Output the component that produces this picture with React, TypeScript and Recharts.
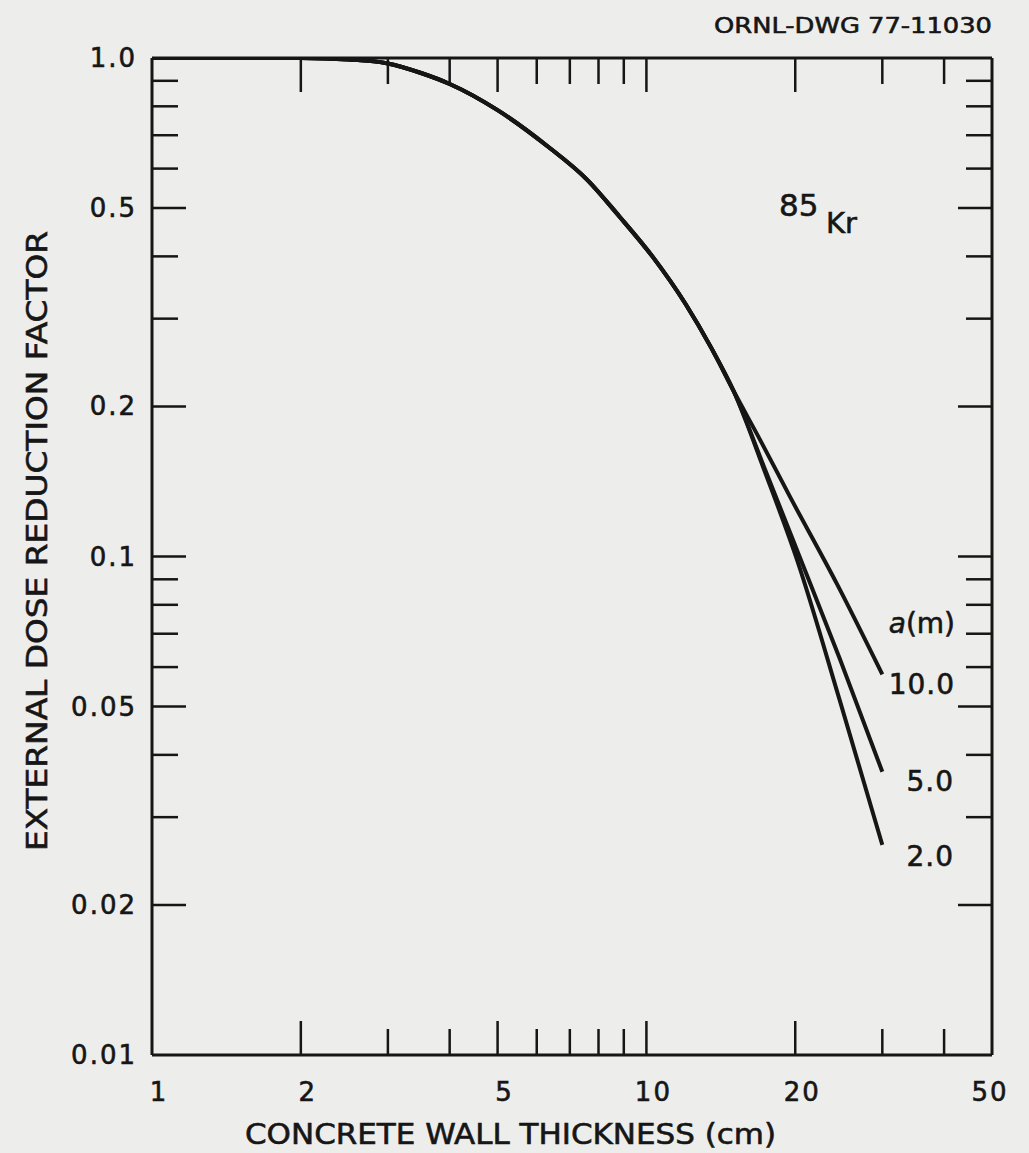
import React from "react";
import { LineChart, Line, XAxis, YAxis, Customized } from "recharts";

const W = 1029;
const H = 1153;
const INK = "#161616";
const FONT = "'DejaVu Sans', Verdana, sans-serif";

// shared part of the three curves (x in cm, y = reduction factor)
const commonX = [1, 2, 2.5, 3, 3.5, 4, 5, 6.3, 7.6, 8.8, 10.3, 12, 13.5, 15];
const commonY = [1.0, 1.0, 0.993, 0.975, 0.933, 0.887, 0.786, 0.666, 0.569, 0.482, 0.399, 0.321, 0.263, 0.215];

// branches for a = 10.0, 5.0, 2.0 m
const tail10X = [17, 19.5, 24.3, 30];
const tail10Y = [0.171, 0.132, 0.088, 0.058];
const tail5X = [17.4, 20.4, 24.6, 30];
const tail5Y = [0.149, 0.1, 0.0624, 0.037];
const tail2X = [17.4, 20.2, 24.6, 30];
const tail2Y = [0.147, 0.098, 0.0515, 0.0264];

const xTicks = [1, 2, 3, 4, 5, 6, 7, 8, 9, 10, 20, 30, 40, 50];
const xLabels = [1, 2, 5, 10, 20, 50];
const yTicks = [0.01, 0.02, 0.03, 0.04, 0.05, 0.06, 0.07, 0.08, 0.09, 0.1, 0.2, 0.3, 0.4, 0.5, 0.6, 0.7, 0.8, 0.9, 1.0];
const yLabels = [0.01, 0.02, 0.05, 0.1, 0.2, 0.5, 1.0];

const build = (xs: number[], ys: number[]) => xs.map((x, i) => ({ x, y: ys[i] }));
const s10 = build([...commonX, ...tail10X], [...commonY, ...tail10Y]);
const s5 = build([...commonX, ...tail5X], [...commonY, ...tail5Y]);
const s2 = build([...commonX, ...tail2X], [...commonY, ...tail2Y]);

const isMajor = (v: number) => {
  const m = v / Math.pow(10, Math.floor(Math.log10(v) + 1e-9));
  const r = Math.round(m);
  return r === 1 || r === 2 || r === 5;
};
const isEnd = (v: number, lo: number, hi: number) => Math.abs(v - lo) < 1e-9 || Math.abs(v - hi) < 1e-9;
const LONG = 34;
const SHORT = 26;

const labelStyle = { fontFamily: FONT, fontSize: 26, fill: INK, stroke: INK, strokeWidth: 0.6, letterSpacing: 2 } as any;

const BottomTick = (props: any) => {
  const { x, y, payload } = props;
  const v = payload.value;
  const len = isMajor(v) ? LONG : SHORT;
  return (
    <g>
      {!isEnd(v, 1, 50) && <line x1={x} y1={y} x2={x} y2={y - len} stroke={INK} strokeWidth={2.5} />}
      {xLabels.includes(v) && (
        <text x={x + (v === 50 ? -2 : 7)} y={y + 46} textAnchor="middle" style={labelStyle}>
          {String(v)}
        </text>
      )}
    </g>
  );
};

const TopTick = (props: any) => {
  const { x, y, payload } = props;
  const v = payload.value;
  const len = isMajor(v) ? LONG : SHORT;
  if (isEnd(v, 1, 50)) return <g />;
  return <line x1={x} y1={y} x2={x} y2={y + len} stroke={INK} strokeWidth={2.5} />;
};

const LeftTick = (props: any) => {
  const { x, y, payload } = props;
  const v = payload.value;
  const len = isMajor(v) ? LONG : SHORT;
  return (
    <g>
      {!isEnd(v, 0.01, 1) && <line x1={x} y1={y} x2={x + len} y2={y} stroke={INK} strokeWidth={2.5} />}
      {yLabels.some((l) => Math.abs(l - v) < 1e-9) && (
        <text x={x - 15} y={y + 9} textAnchor="end" style={labelStyle}>
          {v === 1 ? "1.0" : String(v)}
        </text>
      )}
    </g>
  );
};

const RightTick = (props: any) => {
  const { x, y, payload } = props;
  const v = payload.value;
  const len = isMajor(v) ? LONG : SHORT;
  if (isEnd(v, 0.01, 1)) return <g />;
  return <line x1={x} y1={y} x2={x - len} y2={y} stroke={INK} strokeWidth={2.5} />;
};

const Annotations = () => (
  <g fontFamily={FONT} fill={INK} stroke={INK} strokeWidth={0.6}>
    <text x={714} y={33} fontSize={22} textLength={278} lengthAdjust="spacingAndGlyphs">ORNL-DWG 77-11030</text>
    <text x={779} y={216} fontSize={31}>85</text>
    <text x={826} y={233} fontSize={29}>Kr</text>
    <text x={955} y={633} fontSize={28} textAnchor="end">
      <tspan fontStyle="italic">a</tspan>
      <tspan>(m)</tspan>
    </text>
    <text x={955} y={694} fontSize={28} textAnchor="end" letterSpacing={1}>10.0</text>
    <text x={954} y={791} fontSize={28} textAnchor="end" letterSpacing={1}>5.0</text>
    <text x={954} y={866} fontSize={28} textAnchor="end" letterSpacing={1}>2.0</text>
    <text x={245} y={1144} fontSize={28} textLength={531} lengthAdjust="spacingAndGlyphs">CONCRETE WALL THICKNESS (cm)</text>
    <text
      x={0}
      y={0}
      fontSize={28}
      textLength={620}
      lengthAdjust="spacingAndGlyphs"
      transform="translate(47 851) rotate(-90)"
    >
      EXTERNAL DOSE REDUCTION FACTOR
    </text>
  </g>
);

const axisCommon = {
  type: "number" as const,
  scale: "log" as const,
  allowDataOverflow: true,
  interval: 0 as const,
  axisLine: { stroke: INK, strokeWidth: 3 },
  tickLine: false,
  tickSize: 0,
  tickMargin: 0,
};

export default function App() {
  return (
    <div style={{ position: "absolute", left: 0, top: 0, width: W, height: H, background: "#ededeb" }}>
      <LineChart width={W} height={H} margin={{ top: 57, right: 36, bottom: 0, left: 0 }}>
        <XAxis {...axisCommon} xAxisId="b" dataKey="x" domain={[1, 50]} ticks={xTicks} height={98} tick={(p: any) => <BottomTick {...p} />} />
        <XAxis {...axisCommon} xAxisId="t" orientation="top" dataKey="x" domain={[1, 50]} ticks={xTicks} height={1} tick={(p: any) => <TopTick {...p} />} />
        <YAxis {...axisCommon} yAxisId="l" domain={[0.01, 1]} ticks={yTicks} width={152} tick={(p: any) => <LeftTick {...p} />} />
        <YAxis {...axisCommon} yAxisId="r" orientation="right" domain={[0.01, 1]} ticks={yTicks} width={1} tick={(p: any) => <RightTick {...p} />} />
        <Line xAxisId="t" yAxisId="r" data={s10} dataKey="y" type="monotone" stroke="none" strokeWidth={0} dot={false} isAnimationActive={false} />
        <Line xAxisId="b" yAxisId="l" data={s10} dataKey="y" type="monotone" stroke={INK} strokeWidth={4} dot={false} isAnimationActive={false} />
        <Line xAxisId="b" yAxisId="l" data={s5} dataKey="y" type="monotone" stroke={INK} strokeWidth={4} dot={false} isAnimationActive={false} />
        <Line xAxisId="b" yAxisId="l" data={s2} dataKey="y" type="monotone" stroke={INK} strokeWidth={4} dot={false} isAnimationActive={false} />
        <Customized component={<Annotations />} />
      </LineChart>
    </div>
  );
}
